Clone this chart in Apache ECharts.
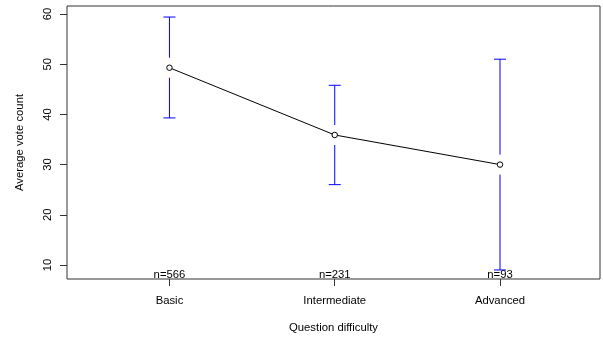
<!DOCTYPE html>
<html><head><meta charset="utf-8">
<script src="https://cdn.jsdelivr.net/npm/echarts@6/dist/echarts.min.js"></script>
<style>html,body{margin:0;padding:0;background:#fff}#c{width:603px;height:338px}</style>
</head><body><div id="c"></div>
<script>
const categories = ['Basic', 'Intermediate', 'Advanced'];
const means = [49.3, 35.9, 30.0];
const upper = [59.4, 45.8, 51.0];
const lower = [39.3, 26.0, 9.0];
const nCounts = ['n=566', 'n=231', 'n=93'];
const yTicks = [10, 20, 30, 40, 50, 60];
const xPos = [1, 2, 3];

const FONT = 'Liberation Sans, Arial, sans-serif';
const FS = 11.3;
const BLUE = '#0000ff';
const W = 603, H = 338;
const G = {left: 67, right: 3, top: 6, bottom: 59};
const XMIN = 0.38, XMAX = 3.605, YMIN = 7.2, YMAX = 61.6;
// pixel sizes converted to data units for gaps and caps
const gapY = 10 * (YMAX - YMIN) / (H - G.top - G.bottom);
const capX = 6 * (XMAX - XMIN) / (W - G.left - G.right);

const chart = echarts.init(document.getElementById('c'), null, {renderer: 'canvas'});

const errLines = [];
xPos.forEach((x, i) => {
  errLines.push([x - capX, upper[i]], [x + capX, upper[i]], '-');
  errLines.push([x, upper[i]], [x, means[i] + gapY], '-');
  errLines.push([x, means[i] - gapY], [x, lower[i]], '-');
  errLines.push([x - capX, lower[i]], [x + capX, lower[i]], '-');
});
const lineData = xPos.map((x, i) => [x, means[i]]);
const labelData = xPos.map((x, i) => ({value: [x, YMIN], label: {formatter: nCounts[i]}}));

chart.setOption({
  animation: false,
  grid: Object.assign({show: true, borderColor: '#333', borderWidth: 1, backgroundColor: 'transparent'}, G),
  xAxis: {
    type: 'value', min: XMIN, max: XMAX,
    name: 'Question difficulty', nameLocation: 'middle', nameGap: 43,
    nameTextStyle: {fontFamily: FONT, fontSize: FS, color: '#000'},
    axisLine: {show: false},
    splitLine: {show: false},
    axisTick: {show: true, length: 7, customValues: xPos, lineStyle: {color: '#333'}},
    axisLabel: {show: true, customValues: xPos, margin: 16, fontFamily: FONT, fontSize: FS, color: '#000',
      formatter: v => categories[Math.round(v) - 1] || ''}
  },
  yAxis: {
    type: 'value', min: YMIN, max: YMAX,
    name: 'Average vote count', nameLocation: 'middle', nameGap: 42, nameRotate: 90,
    nameTextStyle: {fontFamily: FONT, fontSize: FS, color: '#000'},
    axisLine: {show: false},
    splitLine: {show: false},
    axisTick: {show: true, length: 7, customValues: yTicks, lineStyle: {color: '#333'}},
    axisLabel: {show: true, customValues: yTicks, rotate: 90, margin: 14, fontFamily: FONT, fontSize: FS, color: '#000'}
  },
  series: [
    {
      type: 'line',
      data: errLines,
      connectNulls: false,
      symbol: 'none',
      lineStyle: {color: BLUE, width: 1, opacity: 1},
      itemStyle: {color: BLUE},
      silent: true,
      z: 2
    },
    {
      type: 'line',
      data: lineData,
      symbol: 'circle', symbolSize: 5.5,
      lineStyle: {color: '#000', width: 1},
      itemStyle: {color: '#fff', borderColor: '#000', borderWidth: 1},
      silent: true,
      z: 3
    },
    {
      type: 'scatter',
      data: labelData,
      symbolSize: 0,
      silent: true,
      itemStyle: {opacity: 1},
      label: {show: true, position: 'top', distance: -1, fontFamily: FONT, fontSize: FS, color: '#000', opacity: 1},
      z: 4
    }
  ]
});
</script></body></html>
